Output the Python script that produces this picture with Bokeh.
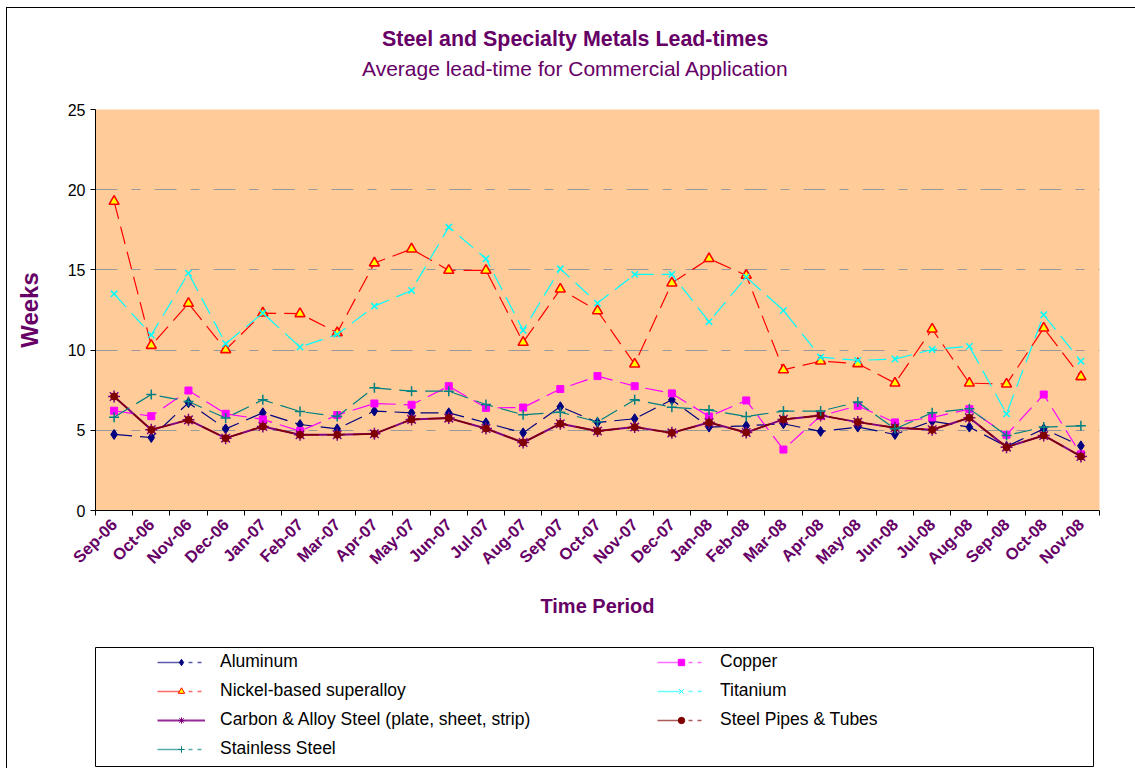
import math
from bokeh.plotting import figure
from bokeh.models import ColumnDataSource, Range1d, FixedTicker, Title, Legend, LegendItem
from bokeh.layouts import column
from bokeh.embed import file_html
from bokeh.resources import INLINE

months = ["Sep-06", "Oct-06", "Nov-06", "Dec-06", "Jan-07", "Feb-07", "Mar-07", "Apr-07",
          "May-07", "Jun-07", "Jul-07", "Aug-07", "Sep-07", "Oct-07", "Nov-07", "Dec-07",
          "Jan-08", "Feb-08", "Mar-08", "Apr-08", "May-08", "Jun-08", "Jul-08", "Aug-08",
          "Sep-08", "Oct-08", "Nov-08"]

aluminum = [4.74, 4.55, 6.72, 5.09, 6.09, 5.36, 5.09, 6.20, 6.09, 6.09, 5.47, 4.84, 6.47, 5.49,
            5.72, 6.90, 5.20, 5.28, 5.41, 4.93, 5.20, 4.74, 5.57, 5.20, 3.99, 5.09, 4.03]
copper = [6.22, 5.88, 7.48, 6.03, 5.68, 4.95, 5.95, 6.67, 6.59, 7.75, 6.40, 6.42, 7.57, 8.38,
          7.75, 7.30, 5.86, 6.86, 3.80, 5.90, 6.53, 5.49, 5.80, 6.32, 4.72, 7.23, 3.50]
nickel = [19.27, 10.29, 12.91, 10.02, 12.31, 12.27, 11.08, 15.43, 16.30, 14.97, 14.97, 10.48,
          13.80, 12.45, 9.13, 14.18, 15.70, 14.66, 8.77, 9.31, 9.15, 7.94, 11.31, 7.94, 7.88,
          11.37, 8.34]
titanium = [13.51, 10.94, 14.80, 10.40, 12.31, 10.19, 10.98, 12.74, 13.72, 17.67, 15.70, 11.23,
            15.07, 12.93, 14.72, 14.72, 11.77, 14.55, 12.47, 9.56, 9.36, 9.44, 10.04, 10.23,
            6.03, 12.20, 9.31]
carbon = [7.11, 5.03, 5.65, 4.51, 5.24, 4.72, 4.72, 4.78, 5.68, 5.76, 5.11, 4.24, 5.41, 4.95,
          5.20, 4.84, 5.49, 4.86, 5.68, 5.93, 5.51, 5.16, 5.03, 5.78, 3.95, 4.68, 3.37]
pipes = [7.11, 5.03, 5.65, 4.51, 5.24, 4.72, 4.72, 4.78, 5.68, 5.76, 5.11, 4.24, 5.41, 4.95,
         5.20, 4.84, 5.49, 4.86, 5.68, 5.93, 5.51, 5.16, 5.03, 5.78, 3.95, 4.68, 3.37]
stainless = [5.82, 7.23, 6.80, 5.76, 6.90, 6.17, 5.86, 7.65, 7.44, 7.44, 6.61, 5.97, 6.13, 5.53,
             6.90, 6.44, 6.26, 5.86, 6.20, 6.20, 6.76, 5.09, 6.09, 6.34, 4.68, 5.20, 5.28]

y_ticks = [0, 5, 10, 15, 20, 25]

title_text = "Steel and Specialty Metals Lead-times"
subtitle_text = "Average lead-time for Commercial Application"

PURPLE = "#660066"
FONT = "Liberation Sans"

idx = list(range(len(months)))

series = [
    # label, values, line colour, dash, line width, marker, size, fill, marker lw, legend line colour
    ("Aluminum", aluminum, "#000080", "18 8", 1.2, "diamond", 10, "#000080", 1, "#5a5aaa"),
    ("Copper", copper, "#FF00FF", "18 8", 1.2, "square", 7, "#FF00FF", 1, "#ff6aff"),
    ("Nickel-based superalloy", nickel, "#FF0000", "18 8", 1.2, "triangle", 10, "#FFFF00", 1.6, "#ff6a6a"),
    ("Titanium", titanium, "#00FFFF", "18 8", 1.2, "x", 9, "#00FFFF", 1.5, "#6affff"),
    ("Carbon & Alloy Steel (plate, sheet, strip)", carbon, "#800080", "solid", 2, "asterisk", 12, "#800080", 1.5, "#962a96"),
    ("Steel Pipes & Tubes", pipes, "#800000", "18 8", 1.5, "circle", 7, "#800000", 1, "#aa5a5a"),
    ("Stainless Steel", stainless, "#008080", "18 8", 1.2, "cross", 10, "#008080", 1.5, "#5aaaaa"),
]

W = 1128

# ---- title strip ----
p0 = figure(width=W, height=91, x_range=Range1d(0, 1), y_range=Range1d(0, 1),
            x_axis_type=None, y_axis_type=None, output_backend="svg", toolbar_location=None,
            min_border_left=88, min_border_right=36, min_border_top=74, min_border_bottom=0)
p0.outline_line_color = None
p0.background_fill_color = "white"
p0.border_fill_color = "white"
p0.xgrid.visible = False
p0.ygrid.visible = False
p0.add_layout(Title(text=subtitle_text, align="left", offset=266.5, standoff=6,
                    text_font=FONT, text_font_size="21px", text_font_style="normal",
                    text_color=PURPLE), "above")
p0.add_layout(Title(text=title_text, align="left", offset=286.5, standoff=2,
                    text_font=FONT, text_font_size="21.4px", text_font_style="bold",
                    text_color=PURPLE), "above")

# ---- chart ----
p = figure(width=W, height=538,
           x_range=Range1d(-0.5, len(months) - 0.5), y_range=Range1d(0, 25),
           output_backend="svg", toolbar_location=None,
           min_border_left=88, min_border_right=36, min_border_top=10, min_border_bottom=127)
p.background_fill_color = "#FFCC99"
p.border_fill_color = "white"
p.outline_line_color = None

# x axis: labels at category centres, ticks at category boundaries
p.xaxis.ticker = FixedTicker(ticks=idx, minor_ticks=[i - 0.5 for i in range(len(months) + 1)])
p.xaxis.major_label_overrides = {i: m for i, m in zip(idx, months)}
p.xaxis.major_tick_line_color = None
p.xaxis.major_tick_out = 6
p.xaxis.major_tick_in = 0
p.xaxis.minor_tick_out = 5
p.xaxis.minor_tick_in = 0
p.xaxis.minor_tick_line_color = "black"
p.xaxis.axis_line_color = "black"
p.xaxis.major_label_orientation = math.pi / 4
p.xaxis.major_label_text_font = FONT
p.xaxis.major_label_text_font_size = "16.5px"
p.xaxis.major_label_text_font_style = "bold"
p.xaxis.major_label_text_color = PURPLE
p.xaxis.axis_label = "Time Period"
p.xaxis.axis_label_text_font = FONT
p.xaxis.axis_label_text_font_size = "20px"
p.xaxis.axis_label_text_font_style = "bold"
p.xaxis.axis_label_text_color = PURPLE
p.xaxis.axis_label_standoff = 18

p.yaxis.ticker = FixedTicker(ticks=y_ticks)
p.yaxis.minor_tick_line_color = None
p.yaxis.major_tick_out = 5
p.yaxis.major_tick_in = 0
p.yaxis.axis_line_color = "black"
p.yaxis.major_label_text_font = FONT
p.yaxis.major_label_text_font_size = "16px"
p.yaxis.major_label_text_color = "black"
p.yaxis.axis_label = "Weeks"
p.yaxis.axis_label_text_font = FONT
p.yaxis.axis_label_text_font_size = "24px"
p.yaxis.axis_label_text_font_style = "bold"
p.yaxis.axis_label_text_color = PURPLE
p.yaxis.axis_label_standoff = 22

p.xgrid.visible = False
p.ygrid.grid_line_color = "#999999"
p.ygrid.grid_line_width = 1
p.ygrid.grid_line_dash = "22 14 9 14"

# ---- legend panel; its frame is the legend box (narrower figure, same border sizes) ----
p2 = figure(width=1122, height=131, x_range=Range1d(-3, -2), y_range=Range1d(-3, -2),
            x_axis_type=None, y_axis_type=None, output_backend="svg", toolbar_location=None,
            min_border_left=88, min_border_right=36, min_border_top=10, min_border_bottom=2)
p2.outline_line_color = "black"
p2.outline_line_width = 1
p2.background_fill_color = "white"
p2.border_fill_color = "white"
p2.xgrid.visible = False
p2.ygrid.visible = False

items = []
for label, vals, color, dash, lw, marker, size, fill, mlw, lcol in series:
    src = ColumnDataSource(data=dict(x=idx, y=vals))
    p.line("x", "y", source=src, line_color=color, line_dash=dash, line_width=lw)
    p.scatter("x", "y", source=src, marker=marker, size=size, fill_color=fill,
              line_color=color, line_width=mlw)
    leg_dash = "solid" if dash == "solid" else "23 8 4 5 4 4"
    r1 = p2.line("x", "y", source=src, line_color=lcol, line_dash=leg_dash,
                 line_width=1.3 if dash != "solid" else 2)
    r2 = p2.scatter("x", "y", source=src, marker=marker, size=size, fill_color=fill,
                    line_color=color, line_width=1)
    items.append(LegendItem(label=label, renderers=[r1, r2]))

legend = Legend(items=items, orientation="horizontal", ncols=2, location=(62, 7),
                padding=0, margin=0, spacing=8, glyph_width=48, glyph_height=16,
                label_height=20, label_width=429, label_standoff=15,
                border_line_color=None, background_fill_alpha=0,
                label_text_font=FONT, label_text_font_size="17.5px", label_text_color="black")
p2.add_layout(legend, "center")

layout = column(p0, p, p2, styles={"margin-left": "6px", "margin-top": "7px",
                                   "border-left": "1px solid black",
                                   "border-top": "1px solid black"})

open("out.html", "w").write(file_html(layout, INLINE))
